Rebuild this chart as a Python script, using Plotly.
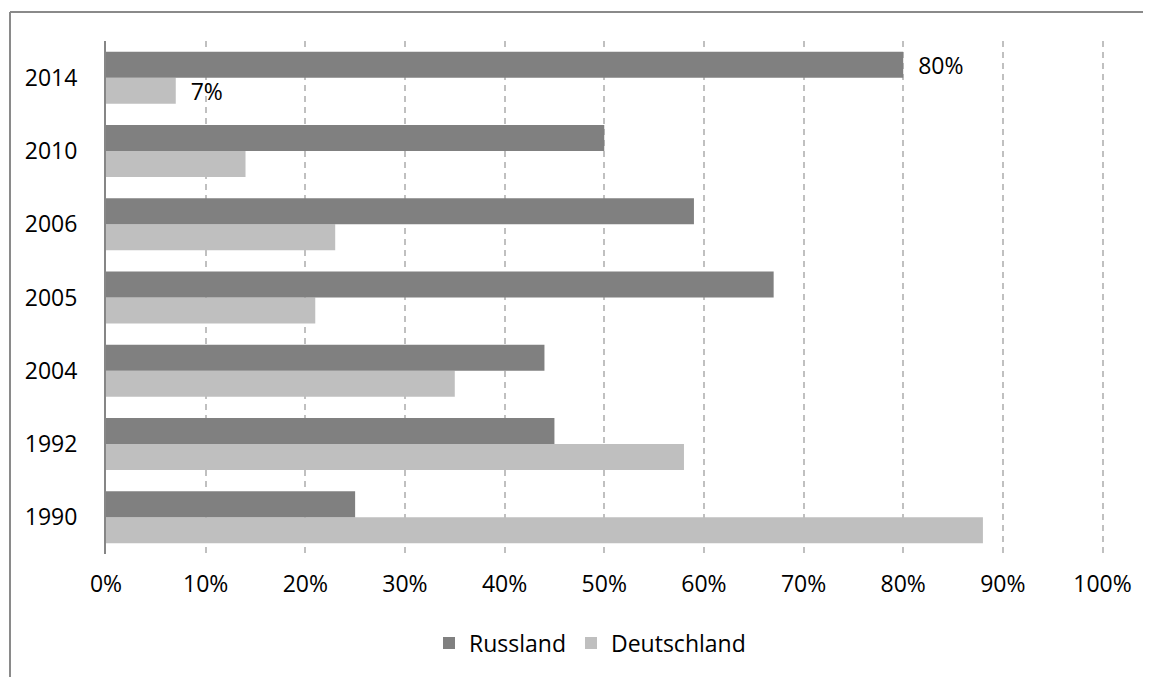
import plotly.graph_objects as go

years = ["1990", "1992", "2004", "2005", "2006", "2010", "2014"]
russland = [25, 45, 44, 67, 59, 50, 80]
deutschland = [88, 58, 35, 21, 23, 14, 7]
labeled_year = "2014"
x_ticks = [0, 10, 20, 30, 40, 50, 60, 70, 80, 90, 100]
x_tick_labels = [f"{v}%" for v in x_ticks]

FONT = "Open Sans"
FS = 23
NB = "\u00a0\u00a0"

def labels(vals):
    return [NB + f"{v}%" if y == labeled_year else "" for y, v in zip(years, vals)]

fig = go.Figure()
fig.add_trace(go.Bar(
    y=years, x=deutschland, orientation="h", name="Deutschland",
    marker=dict(color="#bfbfbf", line=dict(width=0)),
    text=labels(deutschland), textposition="outside", constraintext="none",
    textfont=dict(family=FONT, size=FS, color="#000000"),
    cliponaxis=False, legendrank=2,
))
fig.add_trace(go.Bar(
    y=years, x=russland, orientation="h", name="Russland",
    marker=dict(color="#808080", line=dict(width=0)),
    text=labels(russland), textposition="outside", constraintext="none",
    textfont=dict(family=FONT, size=FS, color="#000000"),
    cliponaxis=False, legendrank=1,
))

OFF = 8  # page body margin
W, H = 1151 - OFF, 677 - OFF
L, T = 106 - OFF, 41 - OFF
pw, ph = 998, 513
R, B = W - L - pw, H - T - ph

def px_x(p):
    return (p - 106) / pw

def px_y(p):
    return 1 - (p - 41) / ph

fig.update_layout(
    width=W, height=H,
    margin=dict(l=L, r=R, t=T, b=B),
    paper_bgcolor="white", plot_bgcolor="white",
    barmode="group", bargap=0.29, bargroupgap=0,
    font=dict(family=FONT, size=FS, color="#000000"),
    showlegend=True,
    legend=dict(orientation="h", x=px_x(590), xanchor="center",
                y=px_y(643), yanchor="middle",
                font=dict(family=FONT, size=FS, color="#000000"),
                tracegroupgap=0),
    xaxis=dict(range=[0, 100.15], tickmode="array", tickvals=x_ticks,
               ticktext=x_tick_labels,
               showgrid=True, gridcolor="#c0c0c0", gridwidth=1.5,
               griddash="6px,5px", zeroline=False, showline=False,
               ticks="", ticklabelstandoff=14,
               tickfont=dict(family=FONT, size=FS, color="#000000")),
    yaxis=dict(type="category", categoryorder="array", categoryarray=years,
               showgrid=False, zeroline=False, showline=True,
               linecolor="#868686", linewidth=2, ticks="",
               ticklabelstandoff=22,
               tickfont=dict(family=FONT, size=FS, color="#000000")),
    shapes=[
        dict(type="line", xref="paper", yref="paper",
             x0=px_x(10), x1=px_x(1160), y0=px_y(12), y1=px_y(12),
             line=dict(color="#8a8a8a", width=2)),
        dict(type="line", xref="paper", yref="paper",
             x0=px_x(10), x1=px_x(10), y0=px_y(12), y1=px_y(690),
             line=dict(color="#8a8a8a", width=2)),
    ],
)

fig.write_html("out.html")
